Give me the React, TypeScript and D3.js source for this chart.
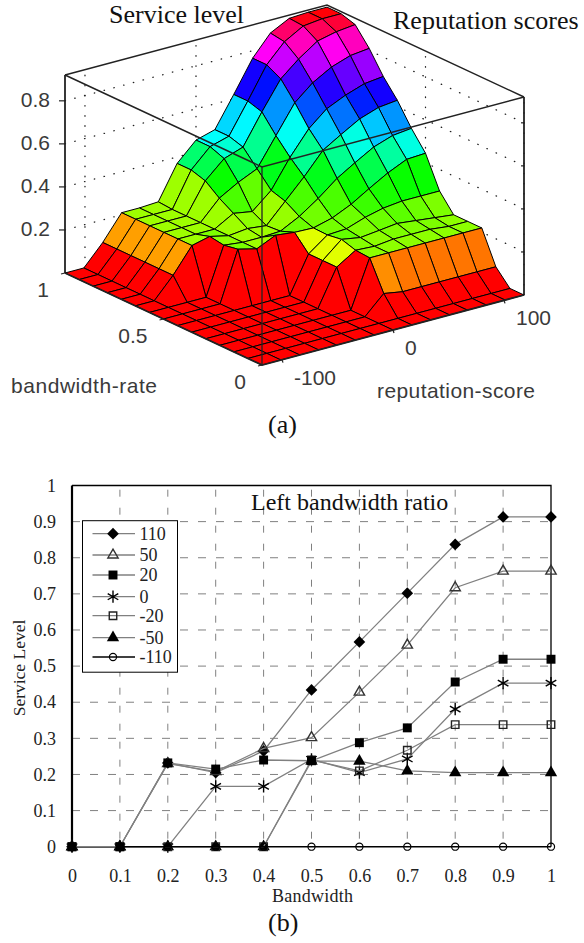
import { useEffect, useRef } from "react";
import * as d3 from "d3";

// panel (a): service level, rows = bandwidth-rate grid, columns = reputation grid
const surfaceRows = [
  [0, 0, 0, 0, 0, 0, 0, 0, 0, 0, 0, 0, 0, 0, 0],
  [0, 0, 0, 0, 0, 0, 0, 0, 0, 0, 0, 0, 0, 0, 0],
  [0, 0, 0, 0, 0, 0, 0, 0, 0.085, 0.07, 0.07, 0.07, 0.07, 0.07, 0.07],
  [0, 0, 0, 0, 0, 0, 0, 0, 0.22, 0.22, 0.22, 0.22, 0.22, 0.22, 0.22],
  [0, 0, 0, 0, 0, 0, 0, 0.17, 0.225, 0.22, 0.23, 0.23, 0.23, 0.22, 0.22],
  [0, 0, 0, 0, 0, 0, 0, 0.17, 0.245, 0.23, 0.24, 0.25, 0.24, 0.23, 0.22],
  [0, 0, 0, 0, 0, 0, 0, 0.17, 0.235, 0.24, 0.27, 0.29, 0.3, 0.3, 0.3],
  [0, 0, 0, 0, 0.232, 0.21, 0.25, 0.24, 0.237, 0.26, 0.3, 0.35, 0.4, 0.44, 0.445],
  [0, 0, 0, 0, 0.22, 0.21, 0.21, 0.215, 0.26, 0.32, 0.39, 0.44, 0.49, 0.52, 0.53],
  [0, 0, 0.095, 0.21, 0.23, 0.21, 0.22, 0.21, 0.3, 0.39, 0.49, 0.54, 0.59, 0.62, 0.63],
  [0, 0, 0.095, 0.21, 0.21, 0.21, 0.26, 0.245, 0.32, 0.45, 0.56, 0.63, 0.67, 0.7, 0.71],
  [0, 0, 0.095, 0.21, 0.21, 0.21, 0.3, 0.35, 0.39, 0.52, 0.65, 0.72, 0.77, 0.8, 0.81],
  [0, 0, 0.095, 0.21, 0.21, 0.21, 0.35, 0.43, 0.46, 0.6, 0.73, 0.8, 0.86, 0.88, 0.89],
  [0, 0, 0.095, 0.21, 0.21, 0.21, 0.37, 0.455, 0.48, 0.62, 0.765, 0.85, 0.9, 0.91, 0.91],
  [0, 0, 0.095, 0.21, 0.21, 0.215, 0.37, 0.455, 0.48, 0.62, 0.765, 0.86, 0.905, 0.91, 0.91],
];
const bwGrid = [0, 1 / 14, 2 / 14, 3 / 14, 4 / 14, 5 / 14, 6 / 14, 7 / 14, 8 / 14, 9 / 14, 10 / 14, 11 / 14, 12 / 14, 13 / 14, 1];
const repGrid = [-118, -101, -84, -67, -51, -34, -17, 0, 17, 34, 51, 67, 84, 101, 118];
const zTicks = [0.2, 0.4, 0.6, 0.8];
const bwTicks = [0, 0.5, 1];
const repTicks = [-100, 0, 100];

// panel (b)
const bandwidth = [0, 0.1, 0.2, 0.3, 0.4, 0.5, 0.6, 0.7, 0.8, 0.9, 1];
const s110 = [0, 0, 0.232, 0.205, 0.265, 0.434, 0.567, 0.702, 0.837, 0.913, 0.913];
const s50 = [0, 0, 0.23, 0.208, 0.272, 0.302, 0.428, 0.558, 0.717, 0.763, 0.763];
const s20 = [0, 0, 0.232, 0.215, 0.24, 0.238, 0.288, 0.329, 0.456, 0.519, 0.519];
const s0 = [0, 0, 0, 0.167, 0.167, 0.242, 0.205, 0.243, 0.381, 0.453, 0.453];
const sm20 = [0, 0, 0, 0, 0, 0.24, 0.21, 0.267, 0.338, 0.338, 0.338];
const sm50 = [0, 0, 0, 0, 0, 0.237, 0.237, 0.21, 0.205, 0.205, 0.205];
const sm110 = [0, 0, 0, 0, 0, 0, 0, 0, 0, 0, 0];
const seriesNames = ["110", "50", "20", "0", "-20", "-50", "-110"];
const seriesValues = [s110, s50, s20, s0, sm20, sm50, sm110];
const drawOrder = [0, 1, 3, 5, 4, 6, 2];
const yTicks = [0, 0.1, 0.2, 0.3, 0.4, 0.5, 0.6, 0.7, 0.8, 0.9, 1];

const SERIF = "'Liberation Serif', serif";
const SANS = "'Liberation Sans', sans-serif";

const drawMarker = (g, name, cx, cy) => {
  const t = `translate(${cx},${cy})`;
  const m = g.append("path").attr("transform", t);
  if (name === "110") {
    m.attr("d", d3.symbol(d3.symbolSquare, 68)()).attr("transform", `${t} rotate(45)`).attr("fill", "#000");
  } else if (name === "50") {
    m.attr("d", d3.symbol(d3.symbolTriangle, 46)()).attr("fill", "none").attr("stroke", "#333").attr("stroke-width", 1.4);
  } else if (name === "20") {
    m.attr("d", d3.symbol(d3.symbolSquare, 80)()).attr("fill", "#000");
  } else if (name === "0") {
    m.attr("d", d3.symbol(d3.symbolAsterisk, 105)()).attr("fill", "none").attr("stroke", "#000").attr("stroke-width", 1.4);
  } else if (name === "-20") {
    m.attr("d", d3.symbol(d3.symbolSquare, 56)()).attr("fill", "none").attr("stroke", "#222").attr("stroke-width", 1.4);
  } else if (name === "-50") {
    m.attr("d", d3.symbol(d3.symbolTriangle, 66)()).attr("fill", "#000");
  } else {
    m.attr("d", d3.symbol(d3.symbolCircle, 40)()).attr("fill", "none").attr("stroke", "#000").attr("stroke-width", 1.2);
  }
};

const drawSurface = (svg) => {
  const g = svg.append("g");

  // oblique box: each data axis maps to a screen offset from the front floor corner
  const bwX = d3.scaleLinear().domain([0, 1]).range([262, 65]);
  const bwY = d3.scaleLinear().domain([0, 1]).range([365, 273]);
  const repX = d3.scaleLinear().domain([-118, 118]).range([0, 262]);
  const repY = d3.scaleLinear().domain([-118, 118]).range([0, -70]);
  const zY = d3.scaleLinear().domain([0, 0.92]).range([0, -198]);
  const project = (b, r, z) => [bwX(b) + repX(r), bwY(b) + repY(r) + zY(z)];
  const line = d3.line();
  const edge = (pts) =>
    g.append("path").attr("d", line(pts)).attr("fill", "none");

  const [rMin, rMax] = repX.domain();
  const zMax = zY.domain()[1];

  // dotted grid on the two back walls
  const dotted = (pts) => edge(pts).attr("stroke", "#222").attr("stroke-width", 1.3).attr("stroke-linecap", "round").attr("stroke-dasharray", "0.5 9.6");
  zTicks.forEach((z) => {
    dotted([project(1, rMin, z), project(1, rMax, z)]);
    dotted([project(0, rMax, z), project(1, rMax, z)]);
  });
  repTicks.forEach((r) => dotted([project(1, r, 0), project(1, r, zMax)]));
  bwTicks.forEach((b) => dotted([project(b, rMax, 0), project(b, rMax, zMax)]));

  // back edges of the box
  const solid = (pts, w = 1.5) => edge(pts).attr("stroke", "#222").attr("stroke-width", w);
  solid([project(1, rMin, 0), project(1, rMin, zMax)], 1.8);
  solid([project(0, rMax, 0), project(0, rMax, zMax)], 1.8);
  solid([project(1, rMin, zMax), project(1, rMax, zMax), project(0, rMax, zMax)]);

  // painter's order: back corner first, facet colour from its lowest corner
  const hue = d3.scaleLinear().domain([0, 0.913]).range([0, 360]);
  for (let i = bwGrid.length - 2; i >= 0; i--) {
    for (let j = repGrid.length - 2; j >= 0; j--) {
      const corners = [
        project(bwGrid[i], repGrid[j], surfaceRows[i][j]),
        project(bwGrid[i + 1], repGrid[j], surfaceRows[i + 1][j]),
        project(bwGrid[i + 1], repGrid[j + 1], surfaceRows[i + 1][j + 1]),
        project(bwGrid[i], repGrid[j + 1], surfaceRows[i][j + 1]),
      ];
      g.append("path")
        .attr("d", line(corners) + "Z")
        .attr("fill", d3.hsl(hue(surfaceRows[i][j]), 1, 0.5).formatHex())
        .attr("stroke", "#000")
        .attr("stroke-width", 1)
        .attr("stroke-linejoin", "round");
    }
  }

  // front edges sit on top of the surface
  solid([project(1, rMin, zMax), project(0, rMin, zMax), project(0, rMax, zMax)]);
  solid([project(0, rMin, 0), project(0, rMin, zMax)], 1.3);
  solid([project(1, rMin, 0), project(0, rMin, 0), project(0, rMax, 0)], 1.8);

  // ticks and labels
  const label = (txt, x, y, anchor = "start") =>
    g.append("text").attr("x", x).attr("y", y).attr("text-anchor", anchor).attr("font-family", SANS).attr("font-size", 21).attr("fill", "#3a3a3a").text(txt);

  zTicks.forEach((z) => {
    const [lx, ly] = project(1, rMin, z);
    solid([[lx - 6, ly], [lx, ly]], 1.2);
    label(`${z}`, lx - 15, ly + 6.5, "end");
    const [rx, ry] = project(0, rMax, z);
    solid([[rx - 3, ry], [rx, ry]], 1.2);
  });
  bwTicks.forEach((b) => {
    const [x, y] = project(b, rMin, 0);
    solid([[x - 4, y + 1], [x, y]], 1.2);
    label(`${b}`, x - 16, y + 24, "end");
  });
  repTicks.forEach((r) => {
    const [x, y] = project(0, r, 0);
    solid([[x + 1, y + 3], [x, y]], 1.2);
    label(`${r}`, x + 12, y + 25);
  });
  label("bandwidth-rate", 11, 393).attr("textLength", 146);
  label("reputation-score", 377, 398).attr("textLength", 158);
};

const drawLines = (svg) => {
  const g = svg.append("g");
  const left = 72;
  const right = 551;
  const top = 485.5;
  const bottom = 846.7;

  const x = d3.scaleLinear().domain([0, 1]).range([left, right]);
  const y = d3.scaleLinear().domain([0, 1]).range([bottom, top]);

  // dashed grid
  yTicks.slice(1, -1).forEach((v) => {
    g.append("line").attr("x1", left).attr("x2", right).attr("y1", y(v)).attr("y2", y(v))
      .attr("stroke", "#808080").attr("stroke-dasharray", "8 10");
  });
  bandwidth.slice(1, -1).forEach((v) => {
    g.append("line").attr("x1", x(v)).attr("x2", x(v)).attr("y1", bottom).attr("y2", top)
      .attr("stroke", "#808080").attr("stroke-dasharray", "7 11").attr("stroke-dashoffset", -8);
  });

  // frame
  g.append("path")
    .attr("d", d3.line()([[left, top], [right, top], [right, bottom]]))
    .attr("fill", "none").attr("stroke", "#000").attr("stroke-width", 1.3);

  // axes, only the labels are kept
  const axisFont = (a) => {
    a.select(".domain").remove();
    a.selectAll("line").remove();
    a.selectAll("text").attr("font-family", SERIF).attr("font-size", 18).attr("fill", "#222");
  };
  g.append("g")
    .attr("transform", `translate(0,${bottom})`)
    .call(d3.axisBottom(x).tickValues(bandwidth).tickSize(0).tickPadding(23).tickFormat((d) => `${d}`))
    .attr("font-size", null)
    .call(axisFont);
  g.append("g")
    .attr("transform", `translate(${left},0)`)
    .call(d3.axisLeft(y).tickValues(yTicks).tickSize(0).tickPadding(16).tickFormat((d) => `${d}`))
    .attr("font-size", null)
    .call(axisFont);

  g.append("line").attr("x1", left).attr("x2", left).attr("y1", top).attr("y2", bottom)
    .attr("stroke", "#000").attr("stroke-width", 2.2);

  // series
  const line = d3.line().x((d) => x(d[0])).y((d) => y(d[1]));
  drawOrder.forEach((k) => {
    const name = seriesNames[k];
    const pts = bandwidth.map((b, i) => [b, seriesValues[k][i]]);
    g.append("path").attr("d", line(pts)).attr("fill", "none")
      .attr("stroke", name === "-110" ? "#000" : "#808080")
      .attr("stroke-width", name === "-110" ? 1.6 : 1.3);
    pts.forEach((p) => drawMarker(g, name, x(p[0]), y(p[1])));
  });

  // legend
  g.append("rect").attr("x", 82.5).attr("y", 520.7).attr("width", 95).attr("height", 151.5)
    .attr("fill", "#fff").attr("stroke", "#000");
  const rowY = [533.7, 555, 575, 596.7, 615.7, 637.7, 657];
  seriesNames.forEach((name, k) => {
    g.append("line").attr("x1", 92.5).attr("x2", 135).attr("y1", rowY[k]).attr("y2", rowY[k])
      .attr("stroke", name === "-110" ? "#000" : "#808080").attr("stroke-width", name === "-110" ? 1.6 : 1.3);
    drawMarker(g, name, 113, rowY[k]);
    g.append("text").attr("x", 139.5).attr("y", rowY[k] + 6).attr("font-family", SERIF)
      .attr("font-size", 18).attr("fill", "#222").text(name);
  });

  g.append("text").attr("x", 251).attr("y", 510).attr("font-family", SERIF).attr("font-size", 24).attr("fill", "#111").text("Left bandwidth ratio");
  g.append("text").attr("x", 272).attr("y", 901.5).attr("font-family", SERIF).attr("font-size", 18).attr("textLength", 81).attr("fill", "#222").text("Bandwidth");
  g.append("text").attr("transform", "translate(25,668) rotate(-90)").attr("text-anchor", "middle")
    .attr("font-family", SERIF).attr("font-size", 17.5).attr("fill", "#222").text("Service Level");
};

const App = () => {
  const svgRef = useRef(null);

  useEffect(() => {
    const svg = d3.select(svgRef.current);
    svg.selectAll("*").remove();

    drawSurface(svg);
    drawLines(svg);

    const title = (txt, x, y) =>
      svg.append("text").attr("x", x).attr("y", y).attr("font-family", SERIF).attr("font-size", 26).attr("fill", "#111").text(txt);
    title("Service level", 109, 23);
    title("Reputation scores", 393, 29);
    title("(a)", 268, 433);
    title("(b)", 268, 931);
  }, []);

  return (
    <svg
      ref={svgRef}
      width={584}
      height={943}
      viewBox="0 0 584 943"
      style={{ position: "absolute", left: 0, top: 0, background: "#fff" }}
    ></svg>
  );
};

export default App;
